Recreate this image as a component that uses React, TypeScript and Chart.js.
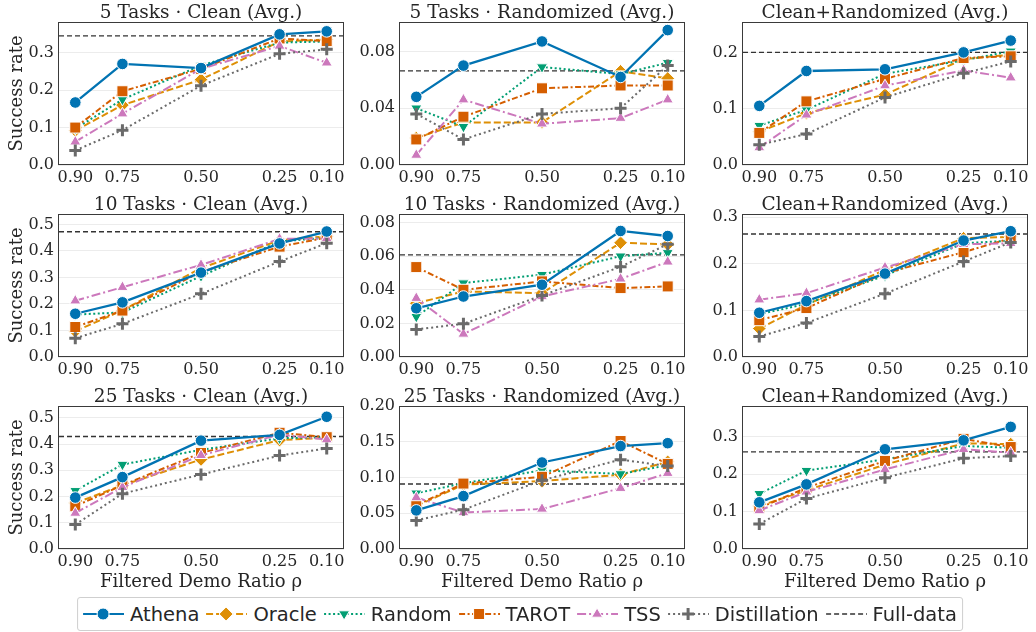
import React, { useEffect, useRef } from 'react';
import { Chart, registerables } from 'chart.js';

Chart.register(...registerables);
Chart.defaults.font.family = 'DejaVu Serif';

// ---------------- data ----------------
const RATIOS = [0.9, 0.75, 0.5, 0.25, 0.1];
const RATIO_LABELS = ['0.90', '0.75', '0.50', '0.25', '0.10'];
const X_MIN = 0.045;
const X_MAX = 0.955;

const PANEL_TITLES = [
  '5 Tasks · Clean (Avg.)',
  '5 Tasks · Randomized (Avg.)',
  'Clean+Randomized (Avg.)',
  '10 Tasks · Clean (Avg.)',
  '10 Tasks · Randomized (Avg.)',
  'Clean+Randomized (Avg.)',
  '25 Tasks · Clean (Avg.)',
  '25 Tasks · Randomized (Avg.)',
  'Clean+Randomized (Avg.)',
];

const METHODS = ['Athena', 'Oracle', 'Random', 'TAROT', 'TSS', 'Distillation'];

// one row per panel, values at rho = 0.90, 0.75, 0.50, 0.25, 0.10
const ATHENA = [
  [0.167, 0.270, 0.259, 0.349, 0.357],
  [0.048, 0.070, 0.087, 0.062, 0.095],
  [0.105, 0.167, 0.170, 0.200, 0.221],
  [0.163, 0.206, 0.318, 0.428, 0.473],
  [0.029, 0.036, 0.043, 0.075, 0.072],
  [0.095, 0.120, 0.179, 0.250, 0.270],
  [0.196, 0.274, 0.413, 0.435, 0.504],
  [0.054, 0.074, 0.121, 0.144, 0.148],
  [0.125, 0.173, 0.267, 0.291, 0.327],
];
const ORACLE = [
  [0.092, 0.160, 0.228, 0.330, 0.335],
  [0.019, 0.030, 0.030, 0.066, 0.061],
  [0.059, 0.092, 0.125, 0.188, 0.196],
  [0.097, 0.176, 0.335, 0.440, 0.455],
  [0.032, 0.039, 0.038, 0.068, 0.067],
  [0.061, 0.112, 0.187, 0.255, 0.258],
  [0.175, 0.243, 0.341, 0.415, 0.424],
  [0.060, 0.090, 0.095, 0.104, 0.122],
  [0.115, 0.157, 0.226, 0.283, 0.281],
];
const RANDOM = [
  [0.097, 0.175, 0.266, 0.327, 0.330],
  [0.040, 0.027, 0.069, 0.064, 0.072],
  [0.070, 0.098, 0.162, 0.186, 0.202],
  [0.160, 0.168, 0.305, 0.435, 0.450],
  [0.024, 0.044, 0.049, 0.060, 0.062],
  [0.092, 0.114, 0.175, 0.244, 0.250],
  [0.222, 0.322, 0.378, 0.422, 0.426],
  [0.078, 0.092, 0.110, 0.105, 0.117],
  [0.148, 0.210, 0.240, 0.276, 0.271],
];
const TAROT = [
  [0.100, 0.197, 0.257, 0.338, 0.331],
  [0.018, 0.034, 0.054, 0.056, 0.056],
  [0.057, 0.113, 0.153, 0.190, 0.193],
  [0.113, 0.175, 0.320, 0.416, 0.450],
  [0.0535, 0.040, 0.045, 0.041, 0.042],
  [0.079, 0.105, 0.180, 0.225, 0.255],
  [0.163, 0.243, 0.366, 0.443, 0.426],
  [0.0615, 0.0915, 0.101, 0.151, 0.119],
  [0.110, 0.164, 0.236, 0.295, 0.273],
];
const TSS = [
  [0.062, 0.137, 0.257, 0.318, 0.273],
  [0.007, 0.046, 0.029, 0.033, 0.046],
  [0.031, 0.089, 0.141, 0.168, 0.155],
  [0.212, 0.263, 0.347, 0.445, 0.447],
  [0.035, 0.0137, 0.036, 0.0465, 0.0566],
  [0.123, 0.137, 0.192, 0.242, 0.244],
  [0.137, 0.235, 0.357, 0.436, 0.417],
  [0.072, 0.051, 0.056, 0.085, 0.106],
  [0.103, 0.153, 0.213, 0.267, 0.258],
];
const DISTILLATION = [
  [0.039, 0.093, 0.212, 0.297, 0.309],
  [0.036, 0.018, 0.036, 0.040, 0.070],
  [0.036, 0.055, 0.120, 0.163, 0.184],
  [0.071, 0.125, 0.238, 0.360, 0.429],
  [0.0164, 0.0198, 0.0366, 0.0537, 0.0671],
  [0.044, 0.073, 0.136, 0.205, 0.246],
  [0.093, 0.211, 0.284, 0.356, 0.383],
  [0.040, 0.055, 0.096, 0.125, 0.116],
  [0.067, 0.135, 0.191, 0.243, 0.249],
];
const FULL_DATA = [0.345, 0.0663, 0.200, 0.472, 0.0608, 0.264, 0.429, 0.091, 0.260];

const Y_MAX = [0.382, 0.1007, 0.254, 0.539, 0.0851, 0.307, 0.545, 0.2, 0.383];
const Y_TICKS = [
  [0, 0.1, 0.2, 0.3],
  [0, 0.04, 0.08],
  [0, 0.1, 0.2],
  [0, 0.1, 0.2, 0.3, 0.4, 0.5],
  [0, 0.02, 0.04, 0.06, 0.08],
  [0, 0.1, 0.2, 0.3],
  [0, 0.1, 0.2, 0.3, 0.4, 0.5],
  [0, 0.05, 0.1, 0.15, 0.2],
  [0, 0.1, 0.2, 0.3],
];
const Y_DECIMALS = [1, 2, 1, 1, 2, 1, 1, 2, 1];

const SERIES = [ATHENA, ORACLE, RANDOM, TAROT, TSS, DISTILLATION];

// ---------------- styles ----------------
const TEXT = '#262626';
const STYLES = [
  { color: '#0173B2', dash: [], point: 'circle', radius: 5.8, rot: 0, pbw: 1, pbc: '#ffffff', width: 2.3, order: 0 },
  { color: '#DE8F05', dash: [7, 3], point: 'rectRot', radius: 6.8, rot: 0, pbw: 1, pbc: '#ffffff', width: 2, order: 6 },
  { color: '#029E73', dash: [2, 2.5], point: 'triangle', radius: 6.4, rot: 180, pbw: 1, pbc: '#ffffff', width: 2, order: 5 },
  { color: '#D55E00', dash: [6, 2.5, 2, 2.5], point: 'rect', radius: 7.8, rot: 0, pbw: 1, pbc: '#ffffff', width: 2, order: 4 },
  { color: '#CC78BC', dash: [9, 3, 2, 3], point: 'triangle', radius: 6.4, rot: 0, pbw: 1, pbc: '#ffffff', width: 2, order: 3 },
  { color: '#6a6a6a', dash: [2, 3], point: 'cross', radius: 6, rot: 0, pbw: 3, pbc: '#6a6a6a', width: 2, order: 2 },
];
const FULL_STYLE = { color: '#333333', dash: [5, 3], width: 1.4 };

// layout
const COL_LEFT = [58, 399, 742];
const ROW_TOP = [22, 214, 406];
const PLOT_W = 289;
const PLOT_H = 143;
const LEFT_W = 58;
const TOP_H = 24;
const RIGHT_PAD = 6;

const framePlugin = {
  id: 'frame',
  afterDatasetsDraw(chart: any) {
    const { ctx, chartArea } = chart;
    const { left, top, right, bottom } = chartArea;
    ctx.save();
    ctx.strokeStyle = '#3a3a3a';
    ctx.lineWidth = 1;
    ctx.strokeRect(left + 0.5, top + 0.5, right - left - 1, bottom - top - 1);
    ctx.restore();
  },
  afterDraw(chart: any, _args: any, opts: any) {
    const { ctx, chartArea } = chart;
    ctx.save();
    ctx.fillStyle = TEXT;
    ctx.font = '18.5px "DejaVu Serif"';
    ctx.textAlign = 'center';
    ctx.textBaseline = 'alphabetic';
    ctx.fillText(opts.title || '', (chartArea.left + chartArea.right) / 2, chartArea.top - 4.5);
    ctx.restore();
  },
};

function Panel({ idx }: { idx: number }) {
  const ref = useRef<HTMLCanvasElement | null>(null);
  const row = Math.floor(idx / 3);
  const col = idx % 3;
  const bottomH = row === 2 ? 48 : 24;
  const W = LEFT_W + PLOT_W + RIGHT_PAD;
  const H = TOP_H + PLOT_H + bottomH;

  useEffect(() => {
    if (!ref.current) return;
    const datasets: any[] = SERIES.map((s, m) => {
      const st = STYLES[m];
      return {
        label: METHODS[m],
        data: RATIOS.map((r, i) => ({ x: r, y: s[idx][i] })),
        borderColor: st.color,
        backgroundColor: st.color,
        borderWidth: st.width,
        borderDash: st.dash,
        borderCapStyle: 'butt',
        pointStyle: st.point,
        pointRadius: st.radius,
        pointRotation: st.rot,
        pointBackgroundColor: st.color,
        pointBorderColor: st.pbc,
        pointBorderWidth: st.pbw,
        tension: 0,
        order: st.order,
        clip: 8,
      };
    });
    datasets.push({
      label: 'Full-data',
      data: [
        { x: X_MIN, y: FULL_DATA[idx] },
        { x: X_MAX, y: FULL_DATA[idx] },
      ],
      borderColor: FULL_STYLE.color,
      borderWidth: FULL_STYLE.width,
      borderDash: FULL_STYLE.dash,
      pointRadius: 0,
      order: 10,
    });

    const chart = new Chart(ref.current, {
      type: 'line',
      data: { datasets },
      plugins: [framePlugin],
      options: {
        responsive: false,
        animation: false,
        devicePixelRatio: 1,
        layout: { padding: { left: 0, right: RIGHT_PAD, top: TOP_H, bottom: 0 } },
        plugins: {
          legend: { display: false },
          tooltip: { enabled: false },
          title: { display: false },
          frame: { title: PANEL_TITLES[idx] },
        } as any,
        scales: {
          x: {
            type: 'linear',
            reverse: true,
            min: X_MIN,
            max: X_MAX,
            afterBuildTicks: (s: any) => {
              s.ticks = RATIOS.map((v) => ({ value: v }));
            },
            afterFit: (s: any) => {
              s.height = bottomH;
            },
            ticks: {
              autoSkip: false,
              maxRotation: 0,
              minRotation: 0,
              padding: 3,
              color: TEXT,
              font: { size: 16 },
              callback: (v: any) => {
                const k = RATIOS.indexOf(v);
                return k >= 0 ? RATIO_LABELS[k] : '';
              },
            },
            grid: { display: false, drawTicks: false },
            border: { display: false },
            title: {
              display: row === 2,
              text: 'Filtered Demo Ratio ρ',
              color: TEXT,
              font: { size: 18 },
              padding: { top: 0, bottom: 4 },
            },
          },
          y: {
            type: 'linear',
            min: 0,
            max: Y_MAX[idx],
            afterBuildTicks: (s: any) => {
              s.ticks = Y_TICKS[idx].map((v) => ({ value: v }));
            },
            afterFit: (s: any) => {
              s.width = LEFT_W;
            },
            ticks: {
              padding: 4,
              color: TEXT,
              font: { size: 16 },
              callback: (v: any) => Number(v).toFixed(Y_DECIMALS[idx]),
            },
            grid: { color: '#ececec', lineWidth: 1, drawTicks: false },
            border: { display: false },
            title: {
              display: col === 0,
              text: 'Success rate',
              color: TEXT,
              font: { size: 18 },
              padding: { top: 7, bottom: 0 },
            },
          },
        },
      } as any,
    });
    return () => chart.destroy();
  }, []);

  return (
    <canvas
      ref={ref}
      width={W}
      height={H}
      style={{
        position: 'absolute',
        left: COL_LEFT[col] - LEFT_W,
        top: ROW_TOP[row] - TOP_H,
        width: W,
        height: H,
      }}
    />
  );
}

function Marker({ m }: { m: number }) {
  const st = STYLES[m];
  const cx = 20;
  const cy = 10;
  if (st.point === 'circle') return <circle cx={cx} cy={cy} r={6} fill={st.color} stroke="#fff" strokeWidth={1} />;
  if (st.point === 'rectRot')
    return <polygon points={`${cx},${cy - 7} ${cx + 7},${cy} ${cx},${cy + 7} ${cx - 7},${cy}`} fill={st.color} stroke="#fff" strokeWidth={1} />;
  if (st.point === 'rect') return <rect x={cx - 5.5} y={cy - 5.5} width={11} height={11} fill={st.color} stroke="#fff" strokeWidth={1} />;
  if (st.point === 'triangle' && st.rot === 180)
    return <polygon points={`${cx - 5.5},${cy - 3.2} ${cx + 5.5},${cy - 3.2} ${cx},${cy + 6}`} fill={st.color} stroke="#fff" strokeWidth={1} />;
  if (st.point === 'triangle')
    return <polygon points={`${cx - 5.5},${cy + 3.2} ${cx + 5.5},${cy + 3.2} ${cx},${cy - 6}`} fill={st.color} stroke="#fff" strokeWidth={1} />;
  return (
    <path d={`M${cx - 6},${cy} H${cx + 6} M${cx},${cy - 6} V${cy + 6}`} stroke={st.color} strokeWidth={3} />
  );
}

function Legend() {
  const entries = [...METHODS, 'Full-data'];
  return (
    <div
      style={{
        position: 'absolute',
        left: 520,
        top: 597,
        transform: 'translateX(-50%)',
        height: 34,
        boxSizing: 'border-box',
        border: '1px solid #cfcfcf',
        borderRadius: 3,
        background: '#fff',
        display: 'flex',
        alignItems: 'center',
        padding: '0 5px',
        fontFamily: '"DejaVu Sans"',
        fontSize: 19.5,
        color: TEXT,
        whiteSpace: 'nowrap',
      }}
    >
      {entries.map((name, i) => {
        const isFull = i === METHODS.length;
        const st = isFull ? null : STYLES[i];
        return (
          <div key={name} style={{ display: 'flex', alignItems: 'center', marginRight: i < entries.length - 1 ? 7 : 0 }}>
            <svg width={41} height={20} style={{ display: 'block' }}>
              <line
                x1={0}
                x2={41}
                y1={10}
                y2={10}
                stroke={isFull ? FULL_STYLE.color : st!.color}
                strokeWidth={isFull ? 1.6 : 2}
                strokeDasharray={isFull ? FULL_STYLE.dash.join(' ') : st!.dash.length ? st!.dash.join(' ') : undefined}
              />
              {!isFull && <Marker m={i} />}
            </svg>
            <span style={{ marginLeft: 6 }}>{name}</span>
          </div>
        );
      })}
    </div>
  );
}

export default function App() {
  return (
    <div
      style={{
        position: 'absolute',
        left: 0,
        top: 0,
        width: 1036,
        height: 632,
        background: '#ffffff',
        overflow: 'hidden',
      }}
    >
      {PANEL_TITLES.map((_, i) => (
        <Panel key={i} idx={i} />
      ))}
      <Legend />
    </div>
  );
}
